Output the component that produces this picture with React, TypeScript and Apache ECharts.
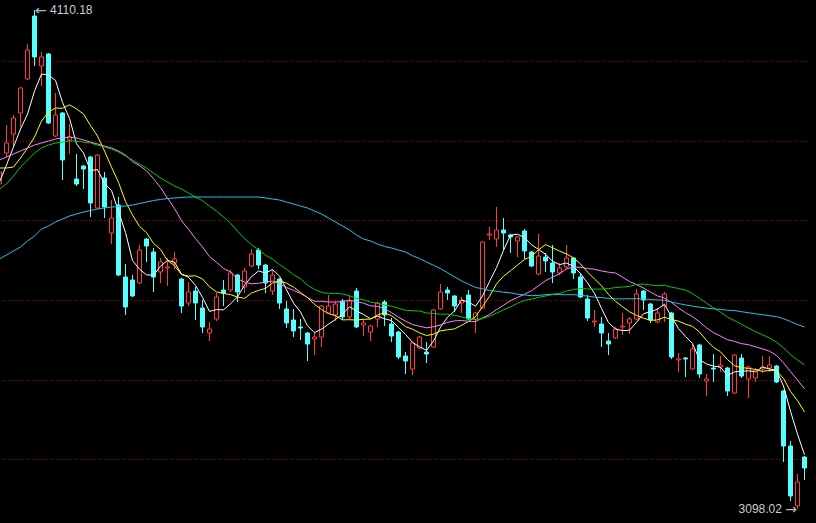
import React, { useEffect, useRef } from "react";
import * as echarts from "echarts";

// [open, close, lowest, highest]
const candles: number[][] = [
  [3756.96, 3781.32, 3752.9, 3789.44],
  [3819.89, 3840.19, 3811.77, 3876.73],
  [3858.46, 3890.94, 3834.1, 3897.03],
  [3901.09, 3951.84, 3872.67, 3953.87],
  [3970.11, 4028.98, 3968.08, 4041.16],
  [4098.0, 4014.77, 3996.5, 4110.18],
  [3996.5, 4014.77, 3955.9, 4024.92],
  [4020.86, 3880.79, 3878.76, 4022.89],
  [3854.4, 3897.03, 3852.37, 3941.69],
  [3901.09, 3805.68, 3765.08, 3903.12],
  [3846.28, 3852.37, 3817.86, 3878.76],
  [3767.11, 3756.96, 3752.9, 3817.86],
  [3793.5, 3787.41, 3746.81, 3795.53],
  [3811.77, 3718.39, 3689.97, 3813.8],
  [3708.24, 3815.83, 3706.21, 3817.86],
  [3769.14, 3710.27, 3687.94, 3781.32],
  [3657.49, 3687.94, 3635.16, 3724.48],
  [3714.33, 3572.23, 3570.2, 3730.57],
  [3568.17, 3507.27, 3491.03, 3594.56],
  [3562.08, 3529.6, 3527.57, 3572.23],
  [3555.99, 3622.98, 3553.96, 3633.13],
  [3645.31, 3631.1, 3598.62, 3647.34],
  [3618.92, 3568.17, 3537.72, 3627.04],
  [3578.32, 3598.62, 3555.99, 3606.74],
  [3586.44, 3588.47, 3549.9, 3606.74],
  [3596.59, 3604.71, 3584.41, 3618.92],
  [3564.11, 3509.3, 3495.09, 3566.14],
  [3515.39, 3537.72, 3509.3, 3558.02],
  [3539.75, 3515.39, 3480.88, 3547.87],
  [3505.24, 3466.67, 3454.49, 3521.48],
  [3454.49, 3462.61, 3438.25, 3476.82],
  [3482.91, 3527.57, 3478.85, 3535.69],
  [3541.78, 3535.69, 3509.3, 3562.08],
  [3541.78, 3576.29, 3537.72, 3582.38],
  [3572.23, 3537.72, 3517.42, 3574.26],
  [3547.87, 3580.35, 3535.69, 3586.44],
  [3590.5, 3614.86, 3588.47, 3625.01],
  [3622.98, 3592.53, 3584.41, 3627.04],
  [3592.53, 3555.99, 3535.69, 3594.56],
  [3539.75, 3572.23, 3531.63, 3584.41],
  [3564.11, 3515.39, 3503.21, 3566.14],
  [3503.21, 3474.79, 3464.64, 3519.45],
  [3480.88, 3458.55, 3446.37, 3503.21],
  [3466.67, 3464.64, 3440.28, 3482.91],
  [3454.49, 3432.16, 3397.65, 3456.52],
  [3442.31, 3446.37, 3409.83, 3456.52],
  [3446.37, 3509.3, 3426.07, 3511.33],
  [3495.09, 3509.3, 3493.06, 3531.63],
  [3491.03, 3513.36, 3478.85, 3519.45],
  [3519.45, 3486.97, 3480.88, 3523.51],
  [3486.97, 3519.45, 3482.91, 3529.6],
  [3539.75, 3466.67, 3464.64, 3545.84],
  [3470.73, 3474.79, 3448.4, 3480.88],
  [3456.52, 3468.7, 3438.25, 3470.73],
  [3482.91, 3515.39, 3466.67, 3517.42],
  [3517.42, 3491.03, 3468.7, 3521.48],
  [3472.76, 3448.4, 3436.22, 3484.94],
  [3456.52, 3405.77, 3401.71, 3458.55],
  [3407.8, 3397.65, 3371.26, 3415.92],
  [3381.41, 3434.19, 3369.23, 3436.22],
  [3424.04, 3446.37, 3422.01, 3448.4],
  [3415.92, 3411.86, 3393.59, 3436.22],
  [3426.07, 3501.18, 3424.04, 3503.21],
  [3503.21, 3537.72, 3501.18, 3553.96],
  [3541.78, 3535.69, 3521.48, 3547.87],
  [3529.6, 3509.3, 3497.12, 3531.63],
  [3515.39, 3521.48, 3495.09, 3527.57],
  [3531.63, 3482.91, 3480.88, 3541.78],
  [3482.91, 3495.09, 3454.49, 3497.12],
  [3505.24, 3639.22, 3503.21, 3641.25],
  [3653.43, 3655.46, 3643.28, 3669.67],
  [3645.31, 3663.58, 3629.07, 3710.27],
  [3663.58, 3657.49, 3622.98, 3687.94],
  [3653.43, 3649.37, 3616.89, 3655.46],
  [3641.25, 3649.37, 3608.77, 3651.4],
  [3661.55, 3620.95, 3604.71, 3665.61],
  [3618.92, 3590.5, 3588.47, 3620.95],
  [3574.26, 3610.8, 3572.23, 3655.46],
  [3608.77, 3600.65, 3578.32, 3616.89],
  [3596.59, 3578.32, 3555.99, 3633.13],
  [3576.29, 3586.44, 3572.23, 3596.59],
  [3588.47, 3606.74, 3584.41, 3633.13],
  [3606.74, 3576.29, 3564.11, 3608.77],
  [3568.17, 3527.57, 3525.54, 3576.29],
  [3523.51, 3484.94, 3478.85, 3531.63],
  [3476.82, 3478.85, 3466.67, 3501.18],
  [3472.76, 3454.49, 3426.07, 3486.97],
  [3438.25, 3432.16, 3409.83, 3454.49],
  [3444.34, 3462.61, 3442.31, 3466.67],
  [3466.67, 3468.7, 3450.43, 3495.09],
  [3474.79, 3482.91, 3452.46, 3486.97],
  [3482.91, 3533.66, 3480.88, 3543.81],
  [3539.75, 3521.48, 3501.18, 3541.78],
  [3513.36, 3480.88, 3474.79, 3515.39],
  [3476.82, 3495.09, 3474.79, 3505.24],
  [3509.3, 3533.66, 3476.82, 3537.72],
  [3495.09, 3405.77, 3401.71, 3497.12],
  [3399.68, 3401.71, 3375.32, 3413.89],
  [3403.74, 3401.71, 3365.17, 3405.77],
  [3381.41, 3422.01, 3379.38, 3432.16],
  [3430.13, 3371.26, 3363.14, 3432.16],
  [3357.05, 3361.11, 3326.6, 3371.26],
  [3383.44, 3381.41, 3355.02, 3411.86],
  [3385.47, 3389.53, 3375.32, 3407.8],
  [3383.44, 3336.75, 3326.6, 3385.47],
  [3332.69, 3409.83, 3330.66, 3411.86],
  [3403.74, 3367.2, 3363.14, 3411.86],
  [3361.11, 3385.47, 3322.54, 3387.5],
  [3363.14, 3379.38, 3355.02, 3383.44],
  [3381.41, 3385.47, 3373.29, 3407.8],
  [3383.44, 3389.53, 3375.32, 3407.8],
  [3387.5, 3355.02, 3352.99, 3389.53],
  [3336.75, 3225.1, 3192.62, 3338.78],
  [3225.1, 3123.6, 3113.45, 3235.25],
  [3103.3, 3152.02, 3098.02, 3168.26],
  [3202.77, 3180.44, 3156.08, 3204.8],
];

// Moving-average values before enough history is visible
const ma5Head = [3761.02, 3795.53, 3832.07, 3868.61];
const ma10Head = [3789.44, 3789.44, 3791.47, 3809.74, 3830.04, 3852.37, 3884.85, 3903.12, 3911.24];
const ma20Head = [
  3805.68, 3811.77, 3817.86, 3823.95, 3830.04, 3836.13, 3840.19, 3844.25, 3848.31, 3850.34,
  3852.37, 3850.34, 3846.28, 3842.22, 3838.16, 3834.1, 3830.04, 3823.95, 3815.83,
];
const ma30Head = [
  3746.81, 3756.96, 3773.2, 3791.47, 3805.68, 3819.89, 3830.04, 3836.13, 3840.19, 3842.22,
  3844.25, 3844.25, 3842.22, 3840.19, 3836.13, 3832.07, 3828.01, 3821.92, 3813.8, 3805.68,
  3797.56, 3789.44, 3779.29, 3769.14, 3761.02, 3752.9, 3746.81, 3738.69, 3730.57,
];
const ma60Head = [
  3604.71, 3612.83, 3620.95, 3629.07, 3641.25, 3651.4, 3665.61, 3671.7, 3679.82, 3685.91,
  3692.0, 3696.06, 3700.12, 3703.17, 3706.21, 3708.24, 3710.27, 3711.29, 3712.3, 3714.33,
  3717.38, 3720.42, 3723.47, 3725.5, 3727.53, 3728.54, 3729.56, 3730.57, 3730.57, 3730.57,
  3730.57, 3730.57, 3730.57, 3730.57, 3730.57, 3730.57, 3730.57, 3730.57, 3728.54, 3726.51,
  3724.48, 3720.42, 3716.36, 3712.3, 3708.24, 3702.15, 3696.06, 3687.94, 3679.82, 3671.7,
  3663.58, 3653.43, 3645.31, 3641.25, 3635.16, 3630.09, 3627.04, 3622.98, 3618.92,
];

const categories = candles.map((_, i) => String(i + 1));

const priceMin = 3036.31;
const priceMax = 4167.02;

function movingAverage(period: number, head: number[]) {
  return candles.map((_, i) => {
    if (i < period - 1) return head[i];
    let s = 0;
    for (let j = i - period + 1; j <= i; j++) s += candles[j][1];
    return +(s / period).toFixed(2);
  });
}

const maLines = [
  { name: "MA5", period: 5, head: ma5Head, color: "#ffffff" },
  { name: "MA10", period: 10, head: ma10Head, color: "#ffff00" },
  { name: "MA20", period: 20, head: ma20Head, color: "#ff80ff" },
  { name: "MA30", period: 30, head: ma30Head, color: "#00cc00" },
  { name: "MA60", period: 60, head: ma60Head, color: "#1ec8e6" },
];

const labelRich = {
  a: { fontFamily: "DejaVu Sans", fontSize: 14, color: "#b4b8c0" },
  b: { fontFamily: "Liberation Sans", fontSize: 12, color: "#c8ccd4" },
};

export default function App() {
  const ref = useRef<HTMLDivElement>(null);
  useEffect(() => {
    const chart = echarts.init(ref.current!, null, { renderer: "svg" });
    chart.setOption({
      animation: false,
      backgroundColor: "#000000",
      grid: { left: 0, right: 0, top: 0, bottom: 0 },
      xAxis: {
        type: "category",
        data: categories,
        boundaryGap: true,
        axisLine: { show: false },
        axisTick: { show: false },
        axisLabel: { show: false },
        splitLine: { show: false },
      },
      yAxis: [
        {
          type: "value",
          min: priceMin,
          max: priceMax,
          axisLine: { show: false },
          axisTick: { show: false },
          axisLabel: { show: false },
          splitLine: { show: false },
        },
        {
          type: "value",
          min: 0,
          max: 7,
          interval: 1,
          axisLine: { show: false },
          axisTick: { show: false },
          axisLabel: { show: false },
          splitLine: { show: true, lineStyle: { color: "#a00000", width: 1, type: [1, 2] } },
        },
      ],
      series: [
        {
          type: "candlestick",
          data: candles,
          barWidth: 4,
          silent: true,
          itemStyle: {
            color: "#000000",
            color0: "#54ffff",
            borderColor: "#ff3c3c",
            borderColor0: "#54ffff",
            borderWidth: 1,
          },
          markPoint: {
            symbol: "circle",
            symbolSize: 1,
            itemStyle: { color: "rgba(0,0,0,0)" },
            silent: true,
            data: [
              {
                type: "max",
                valueDim: "highest",
                label: {
                  show: true,
                  position: "right",
                  distance: 0,
                  formatter: (p: any) => "{a|←}{b| " + Number(p.value).toFixed(2) + "}",
                  rich: labelRich,
                },
              },
              {
                type: "min",
                valueDim: "lowest",
                label: {
                  show: true,
                  position: "left",
                  distance: 0,
                  formatter: (p: any) => "{b|" + Number(p.value).toFixed(2) + " }{a|→}",
                  rich: labelRich,
                },
              },
            ],
          },
        },
        ...maLines.map((m) => ({
          type: "line",
          name: m.name,
          data: movingAverage(m.period, m.head),
          symbol: "none",
          silent: true,
          lineStyle: { color: m.color, width: 1 },
          itemStyle: { color: m.color },
        })),
        { type: "line", yAxisIndex: 1, data: [], silent: true },
      ],
    });
    return () => chart.dispose();
  }, []);
  return (
    <div
      style={{
        position: "fixed",
        left: 0,
        top: 0,
        width: 816,
        height: 523,
        overflow: "hidden",
        background: "#000",
      }}
    >
      <div
        ref={ref}
        style={{ position: "absolute", left: -4, top: -18, width: 812, height: 557 }}
      />
    </div>
  );
}
